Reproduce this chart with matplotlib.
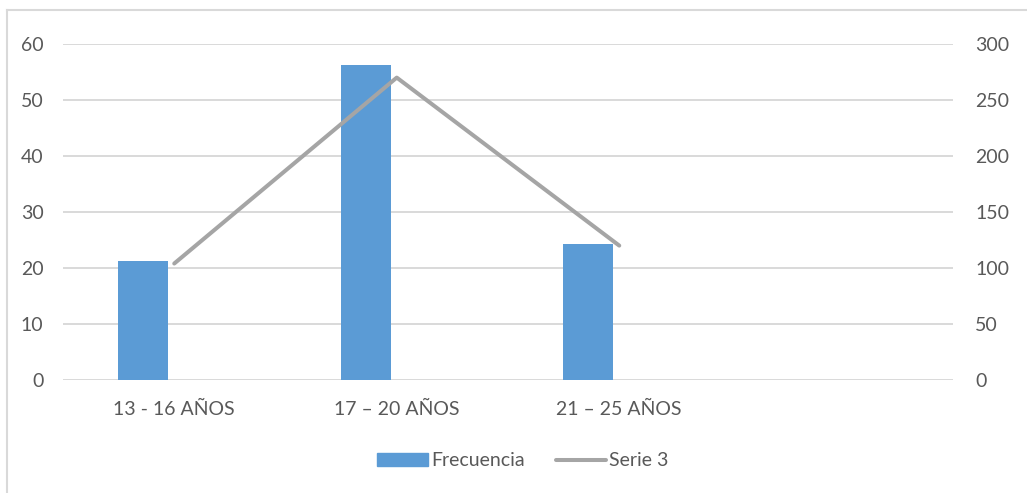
import matplotlib.pyplot as plt
from matplotlib.lines import Line2D
from matplotlib.patches import Patch

categories = ["13 - 16 AÑOS", "17 – 20 AÑOS", "21 – 25 AÑOS", ""]
frecuencia = [21.3, 56.3, 24.3]
serie3 = [104, 270, 120]

W, H = 1027, 493
plt.rcParams['font.family'] = ['Lato', 'DejaVu Sans']
text_color = '#595959'
grid_color = '#d9d9d9'

fig = plt.figure(figsize=(W / 100, H / 100), dpi=100)
ax = fig.add_axes([63 / W, (H - 380) / H, 890 / W, 336 / H])

x = list(range(len(categories)))
bar_x = [i - 0.14 for i in range(len(frecuencia))]
ax.bar(bar_x, frecuencia, width=0.225, color='#5b9bd5', zorder=2)
ax.set_xlim(-0.5, 3.5)
ax.set_ylim(0, 60)
ax.set_yticks(range(0, 61, 10))
ax.set_xticks(x)
ax.set_xticklabels(categories)
ax.yaxis.grid(True, color=grid_color, linewidth=1.4, zorder=0)
ax.set_axisbelow(True)
for s in ax.spines.values():
    s.set_visible(False)
ax.tick_params(axis='y', length=0, pad=14, labelsize=14, labelcolor=text_color)
ax.tick_params(axis='x', length=0, pad=15, labelsize=14, labelcolor=text_color)

ax2 = ax.twinx()
ax2.plot(range(len(serie3)), serie3, color='#a5a5a5', linewidth=2.9,
         solid_capstyle='round', zorder=3)
ax2.set_ylim(0, 300)
ax2.set_yticks(range(0, 301, 50))
for s in ax2.spines.values():
    s.set_visible(False)
ax2.tick_params(axis='y', length=0, pad=16, labelsize=14, labelcolor=text_color)

handles = [Patch(color='#5b9bd5'),
           Line2D([0], [0], color='#a5a5a5', linewidth=2.9, solid_capstyle='round')]
fig.legend(handles, ['Frecuencia', 'Serie 3'], loc='center',
           bbox_to_anchor=(523 / W, (H - 461) / H), ncol=2, frameon=False,
           fontsize=14, labelcolor=text_color, handlelength=2.6,
           handleheight=0.6, handletextpad=0.15, columnspacing=1.6)

# chart border
fig.add_artist(Line2D([7 / W, 7 / W], [0, 1 - 10 / H], color=grid_color, linewidth=1.5))
fig.add_artist(Line2D([7 / W, 1], [1 - 10 / H, 1 - 10 / H], color=grid_color, linewidth=1.5))

fig.savefig('out.png', dpi=100)
